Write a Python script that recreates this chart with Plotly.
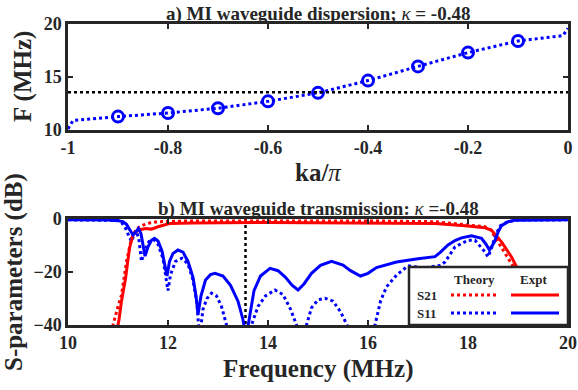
import plotly.graph_objects as go

# ---------------- data: a) dispersion ----------------
ka_line = [-1.0, -0.99, -0.9, -0.8, -0.7, -0.6, -0.5, -0.4, -0.3, -0.2, -0.1, -0.01, 0.0]
F_line = [10.1, 10.9, 11.26, 11.6, 12.05, 12.7, 13.5, 14.66, 16.0, 17.3, 18.4, 18.9, 19.6]
ka_pts = [-0.9, -0.8, -0.7, -0.6, -0.5, -0.4, -0.3, -0.2, -0.1]
F_pts = [11.26, 11.6, 12.05, 12.7, 13.5, 14.66, 16.0, 17.3, 18.4]
f_res = 13.55

# ---------------- data: b) transmission ----------------
f_s21_th = [10.85, 10.9, 11.0, 11.07, 11.17, 11.27, 11.37, 11.5, 11.63, 11.8, 12.5, 14.0, 16.0,
            17.34, 17.74, 18.14, 18.34, 18.45, 18.55, 18.7, 18.9, 19.2, 19.5, 19.7]
s21_th = [-45, -40, -33, -28.7, -16, -7.3, -3.6, -2.3, -1.5, -1.0, -0.7, -0.6, -0.7,
          -1.0, -1.7, -2.3, -2.9, -4, -7, -12, -18, -27, -35, -42]

f_s21_ex = [10.98, 11.02, 11.07, 11.15, 11.23, 11.3, 11.4, 11.55, 11.67, 11.8, 12.03, 12.5, 14.0,
            16.0, 17.34, 17.94, 18.34, 18.47, 18.67, 18.87, 18.97, 19.3, 19.6, 19.85]
s21_ex = [-42, -38, -31, -22.5, -11, -6, -4.2, -3.6, -3.8, -2.9, -1.7, -1.5, -1.3,
          -1.4, -1.7, -2.5, -3.3, -4.2, -8.6, -14.3, -18, -27, -34, -40]

f_s11_th = [10.0, 10.5, 11.0, 11.08, 11.15, 11.22, 11.27, 11.32, 11.37, 11.42, 11.47, 11.53, 11.62,
            11.72, 11.8, 11.9, 11.96, 12.0, 12.05, 12.15, 12.28, 12.4, 12.5, 12.58, 12.63, 12.7,
            12.78, 12.87, 12.97, 13.07, 13.17, 13.3, 13.45, 13.6, 13.67, 13.8, 13.95, 14.14, 14.3,
            14.45, 14.57, 14.67, 14.77, 14.87, 15.0, 15.14, 15.3, 15.45, 15.58, 15.8, 16.0,
            16.14, 16.25, 16.37, 16.57, 16.8, 17.1, 17.45, 17.54, 17.74, 18.0, 18.14, 18.34,
            18.4, 18.47, 18.55, 18.65, 18.8, 19.0, 20.0]
s11_th = [-0.3, -0.3, -0.5, -1.5, -3.5, -6.5, -8.5, -6, -4.5, -8, -16, -12, -8.5,
          -7.8, -9.5, -15, -23, -27, -21, -16, -14.8, -17, -23, -32, -45, -34,
          -30, -28, -29, -33, -40, -55, -60, -55, -40, -33, -29, -26.8, -28.5,
          -34, -40, -50, -40, -33.5, -30.5, -29.9, -31, -35, -40, -55, -50,
          -40, -31, -25.6, -21.2, -17.6, -18.5, -17.5, -16.2, -10.5, -8, -8, -12.4,
          -14.3, -11, -6, -2.5, -1, -0.4, -0.3]

f_s11_ex = [10.0, 10.5, 10.8, 11.0, 11.1, 11.17, 11.24, 11.3, 11.35, 11.41, 11.46, 11.5, 11.54,
            11.6, 11.67, 11.73, 11.8, 11.88, 11.94, 11.98, 12.03, 12.1, 12.2, 12.3, 12.4, 12.5,
            12.56, 12.6, 12.66, 12.75, 12.85, 12.94, 13.1, 13.25, 13.4, 13.5, 13.56, 13.62,
            13.72, 13.85, 14.04, 14.2, 14.35, 14.48, 14.6, 14.72, 14.87, 15.05, 15.27, 15.5,
            15.65, 15.85, 16.0, 16.17, 16.57, 17.0, 17.34, 17.45, 17.6, 17.75, 17.87, 18.07,
            18.27, 18.36, 18.43, 18.53, 18.6, 18.67, 18.8, 18.93, 19.5, 20.0]
s11_ex = [-0.3, -0.3, -0.4, -0.6, -1.0, -2.0, -4.0, -6.0, -5.0, -3.6, -5.5, -10, -14,
          -10.5, -8, -7.3, -8.3, -12, -17, -21.5, -16, -13, -11.7, -12.5, -16, -22,
          -29, -36, -29, -23, -21, -20.5, -21.5, -25, -31, -38, -45, -38,
          -27, -21.5, -18.6, -19.5, -22, -25, -26.8, -24.5, -20.5, -17.5, -16, -17.4,
          -19.5, -21.5, -20.5, -18.3, -16.2, -15, -14.2, -12.5, -9.8, -8, -7.1, -6.3,
          -7.3, -9.5, -11.7, -8.6, -5, -2.5, -1, -0.5, -0.3, -0.3]

BLUE = "#0000FF"
RED = "#FF0000"
INK = "#262626"
FONT = "Liberation Serif"

fig = go.Figure()

# a) dispersion
fig.add_trace(go.Scatter(x=ka_line, y=F_line, mode="lines",
                         line=dict(color=BLUE, width=3, dash="dot"), xaxis="x", yaxis="y"))
fig.add_trace(go.Scatter(x=ka_pts, y=F_pts, mode="markers",
                         marker=dict(symbol="circle-open", size=11, color=BLUE,
                                     line=dict(width=3, color=BLUE)), xaxis="x", yaxis="y"))
fig.add_trace(go.Scatter(x=[-1, 0], y=[f_res, f_res], mode="lines",
                         line=dict(color="black", width=2.5, dash="dot"), xaxis="x", yaxis="y"))

# b) transmission
fig.add_trace(go.Scatter(x=[f_res, f_res], y=[0, -40], mode="lines",
                         line=dict(color="black", width=2.5, dash="dot"), xaxis="x2", yaxis="y2"))
fig.add_trace(go.Scatter(x=f_s21_th, y=s21_th, mode="lines",
                         line=dict(color=RED, width=3, dash="dot"), xaxis="x2", yaxis="y2"))
fig.add_trace(go.Scatter(x=f_s11_th, y=s11_th, mode="lines",
                         line=dict(color=BLUE, width=3, dash="dot"), xaxis="x2", yaxis="y2"))
fig.add_trace(go.Scatter(x=f_s21_ex, y=s21_ex, mode="lines",
                         line=dict(color=RED, width=3), xaxis="x2", yaxis="y2"))
fig.add_trace(go.Scatter(x=f_s11_ex, y=s11_ex, mode="lines",
                         line=dict(color=BLUE, width=3), xaxis="x2", yaxis="y2"))

axis_common = dict(showline=True, linewidth=2.5, linecolor=INK, mirror="ticks",
                   ticks="inside", ticklen=5, tickwidth=2, tickcolor=INK,
                   showgrid=False, zeroline=False, automargin=False,
                   tickfont=dict(family=FONT, size=18, color=INK, weight="bold"))

fig.update_layout(
    width=578, height=390, autosize=False,
    margin=dict(l=68, r=10, t=24, b=65, autoexpand=False),
    paper_bgcolor="white", plot_bgcolor="white",
    showlegend=False,
    font=dict(family=FONT, color=INK),
    xaxis=dict(domain=[0, 1], range=[-1, 0], tickvals=[-1, -0.8, -0.6, -0.4, -0.2, 0],
               ticktext=["-1", "-0.8", "-0.6", "-0.4", "-0.2", "0"], anchor="y", **axis_common),
    yaxis=dict(domain=[0.648, 1], range=[10, 20], tickvals=[10, 15, 20], anchor="x", **axis_common),
    xaxis2=dict(domain=[0, 1], range=[10, 20], tickvals=[10, 12, 14, 16, 18, 20], anchor="y2",
                **axis_common),
    yaxis2=dict(domain=[0, 0.352], range=[-40, 0], tickvals=[-40, -20, 0], anchor="x2",
                **axis_common),
)

# legend box (drawn manually: 2x2 layout)
legend_shapes = [
    dict(type="rect", xref="x2 domain", yref="y2 domain", x0=0.682, x1=1.0, y0=0.0, y1=0.547,
         fillcolor="white", line=dict(color=INK, width=2.5), layer="above"),
    dict(type="line", xref="x2 domain", yref="y2 domain", x0=0.766, x1=0.858, y0=0.283, y1=0.283,
         line=dict(color=RED, width=3, dash="dot"), layer="above"),
    dict(type="line", xref="x2 domain", yref="y2 domain", x0=0.886, x1=0.982, y0=0.283, y1=0.283,
         line=dict(color=RED, width=3), layer="above"),
    dict(type="line", xref="x2 domain", yref="y2 domain", x0=0.766, x1=0.858, y0=0.113, y1=0.113,
         line=dict(color=BLUE, width=3, dash="dot"), layer="above"),
    dict(type="line", xref="x2 domain", yref="y2 domain", x0=0.886, x1=0.982, y0=0.113, y1=0.113,
         line=dict(color=BLUE, width=3), layer="above"),
]
for s in legend_shapes:
    fig.add_shape(**s)

def ann(text, x, y, xref, yref, size, angle=0, xanchor="center", yanchor="middle"):
    fig.add_annotation(text=text, x=x, y=y, xref=xref, yref=yref, showarrow=False,
                       textangle=angle, xanchor=xanchor, yanchor=yanchor,
                       font=dict(family=FONT, size=size, color=INK))

ann("<b>Theory</b>", 0.812, 0.434, "x2 domain", "y2 domain", 13)
ann("<b>Expt</b>", 0.931, 0.434, "x2 domain", "y2 domain", 13)
ann("<b>S21</b>", 0.718, 0.283, "x2 domain", "y2 domain", 13)
ann("<b>S11</b>", 0.718, 0.113, "x2 domain", "y2 domain", 13)

# titles
ann("<b>a) MI waveguide dispersion; </b><i>κ</i><b> = -0.48</b>", 0.5, 1.0, "paper", "paper", 19,
    yanchor="bottom")
fig.layout.annotations[-1].yshift = -3
ann("<b>b) MI waveguide transmission: </b><i>κ</i><b> =-0.48</b>", 0.5, 1.0, "x2 domain", "y2 domain", 19,
    yanchor="bottom")
fig.layout.annotations[-1].yshift = -3

# axis titles
ann("<b>ka/</b><i>π</i>", 0.5, 0.648, "paper", "paper", 25, yanchor="top")
fig.layout.annotations[-1].yshift = -27
ann("<b>F (MHz)</b>", -0.0, 0.5, "x domain", "y domain", 25, angle=-90, xanchor="right")
fig.layout.annotations[-1].xshift = -29
ann("<b>Frequency (MHz)</b>", 0.5, 0.0, "paper", "paper", 25, yanchor="top")
fig.layout.annotations[-1].yshift = -28
ann("<b>S-parameters (dB)</b>", 0.0, 0.5, "x2 domain", "y2 domain", 25, angle=-90, xanchor="right")
fig.layout.annotations[-1].xshift = -38

fig.write_html("out.html")
